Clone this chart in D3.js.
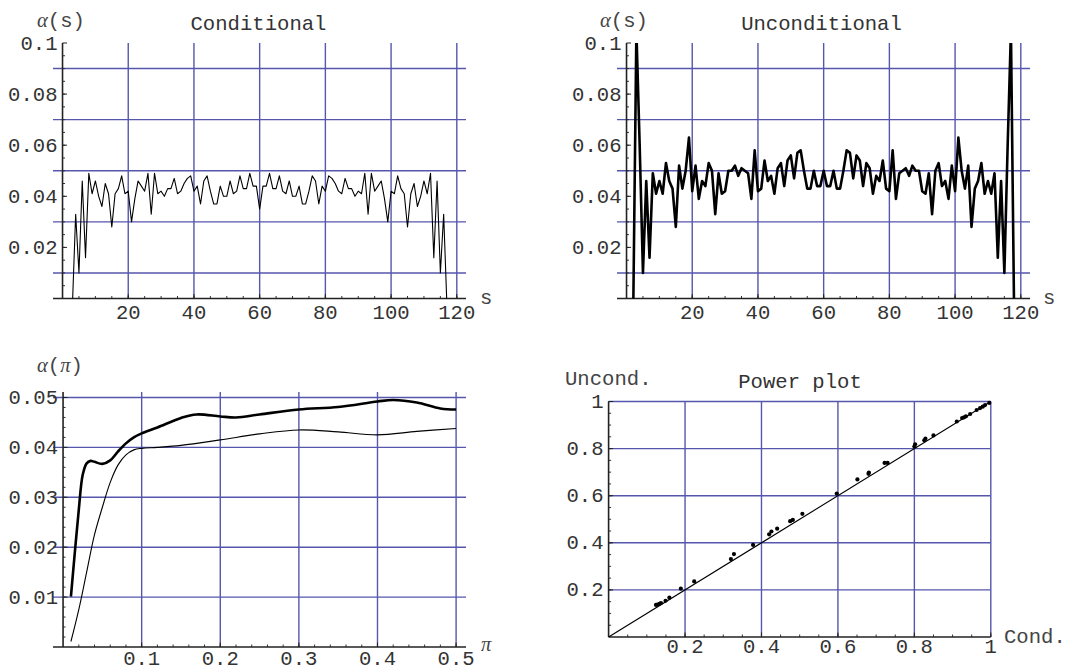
<!DOCTYPE html>
<html>
<head>
<meta charset="utf-8">
<script src="https://cdn.jsdelivr.net/npm/d3@7"></script>
<style>
body{margin:0;background:#fff}
svg{display:block}
</style>
</head>
<body>
<svg id="chart" width="1066" height="671"></svg>
<script>
// ---- data ----
// alpha(s), conditional test, s = 3 .. 117
var condStart = 3
var condVals = [-0.003,0.033,0.010,0.046,0.016,0.049,0.041,0.046,0.040,0.036,
  0.045,0.041,0.028,0.041,0.043,0.048,0.041,0.042,0.030,0.039,
  0.046,0.044,0.042,0.049,0.033,0.049,0.041,0.042,0.040,0.043,
  0.043,0.047,0.041,0.042,0.045,0.047,0.048,0.042,0.044,0.037,
  0.046,0.048,0.042,0.037,0.037,0.044,0.040,0.040,0.046,0.041,
  0.042,0.048,0.043,0.043,0.049,0.044,0.044,0.035,
  0.044,0.044,0.049,0.043,0.043,0.048,0.042,0.041,0.046,0.040,
  0.040,0.044,0.037,0.037,0.042,0.048,0.046,0.037,0.044,0.042,
  0.048,0.047,0.045,0.042,0.041,0.047,0.043,0.043,0.040,0.042,
  0.041,0.049,0.033,0.049,0.042,0.044,0.046,0.039,0.030,0.042,
  0.041,0.048,0.043,0.041,0.028,0.041,0.045,0.036,0.040,0.046,
  0.041,0.049,0.016,0.046,0.010,0.033,-0.003]
// alpha(s), unconditional test, s = 2 .. 118
var uncStart = 2
var uncVals = [-0.010,0.105,0.060,0.010,0.046,0.016,0.049,0.041,0.046,0.041,
  0.053,0.046,0.043,0.028,0.052,0.043,0.050,0.063,0.042,0.052,
  0.039,0.046,0.044,0.053,0.050,0.033,0.049,0.041,0.042,0.050,
  0.050,0.052,0.048,0.051,0.050,0.049,0.039,0.058,0.042,0.043,
  0.054,0.046,0.048,0.041,0.051,0.053,0.044,0.054,0.056,0.047,
  0.057,0.058,0.050,0.043,0.043,0.050,0.044,0.044,0.050,
  0.044,0.044,0.050,0.043,0.043,0.050,0.058,0.057,0.047,0.056,
  0.054,0.044,0.053,0.051,0.041,0.048,0.046,0.054,0.043,0.042,
  0.058,0.039,0.049,0.050,0.051,0.048,0.052,0.050,0.050,0.042,
  0.041,0.049,0.033,0.050,0.053,0.044,0.046,0.039,0.052,0.042,
  0.063,0.050,0.043,0.052,0.028,0.043,0.046,0.053,0.041,0.046,
  0.041,0.049,0.016,0.046,0.010,0.060,0.105,-0.010]

// alpha(pi), thin and thick curves
var thinPi  = [0.01,0.02,0.03,0.04,0.05,0.06,0.07,0.08,0.09,0.10,0.12,0.15,0.20,0.25,0.30,0.35,0.40,0.45,0.50]
var thinA   = [0.0011,0.0075,0.0150,0.0225,0.0280,0.0330,0.0365,0.0385,0.0395,0.0398,0.0400,0.0404,0.0415,0.0427,0.0435,0.0431,0.0425,0.0432,0.0438]
var thickPi = [0.01,0.015,0.02,0.025,0.03,0.035,0.04,0.05,0.06,0.07,0.08,0.09,0.10,0.12,0.15,0.17,0.20,0.22,0.25,0.30,0.35,0.40,0.42,0.45,0.48,0.50]
var thickA  = [0.0101,0.0190,0.0275,0.0345,0.0368,0.0373,0.0371,0.0367,0.0374,0.0392,0.0408,0.0420,0.0428,0.0440,0.0459,0.0466,0.0462,0.0460,0.0466,0.0476,0.0481,0.0492,0.0495,0.0490,0.0478,0.0476]

// power plot points
var powCond   = [0.124,0.128,0.133,0.137,0.149,0.159,0.189,0.224,0.320,0.328,0.378,0.420,0.426,0.441,0.475,0.482,0.507,
  0.597,0.651,0.681,0.680,0.722,0.730,0.800,0.802,0.826,0.829,0.850,0.911,0.925,0.930,0.935,0.946,0.963,0.972,0.979,0.985,0.996]
var powUncond = [0.136,0.138,0.141,0.144,0.154,0.167,0.205,0.236,0.331,0.352,0.391,0.436,0.448,0.460,0.492,0.497,0.523,
  0.609,0.669,0.698,0.693,0.739,0.739,0.809,0.818,0.835,0.842,0.856,0.915,0.930,0.933,0.937,0.947,0.964,0.972,0.978,0.985,0.994]
var diagLine = [0, 1]

// ticks
var sTicks = [20,40,60,80,100,120]
var aTicks = [0.02,0.04,0.06,0.08,0.1]
var aGrid = [0.01,0.03,0.05,0.07,0.09]
var piTicks = [0.1,0.2,0.3,0.4,0.5]
var apiTicks = [0.01,0.02,0.03,0.04,0.05]
var powTicks = [0.2,0.4,0.6,0.8,1]

// ---- drawing ----
var svg = d3.select('#chart')
var gridClr = '#5656ad'
var mono = '"Liberation Mono","Courier New",monospace'
var serif = '"Liberation Serif","Times New Roman",serif'
var txtClr = '#333'
var fs = 20.6

function panel(o){
  var g = svg.append('g')
  var x = d3.scaleLinear().domain(o.xDom).range([o.left, o.right])
  var y = d3.scaleLinear().domain(o.yDom).range([o.bottom, o.top])
  var x0 = x(0), y0 = y(0)

  g.selectAll('.hg').data(o.hGrid).enter().append('line')
    .attr('x1', o.left).attr('x2', o.right)
    .attr('y1', d=>y(d)).attr('y2', d=>y(d))
    .attr('stroke', gridClr).attr('stroke-width', 1.4)
  g.selectAll('.vg').data(o.vGrid).enter().append('line')
    .attr('x1', d=>x(d)).attr('x2', d=>x(d))
    .attr('y1', o.top).attr('y2', y0)
    .attr('stroke', gridClr).attr('stroke-width', 1.4)

  // minor + major ticks
  g.selectAll('.xm').data(o.xMinor).enter().append('line')
    .attr('x1', d=>x(d)).attr('x2', d=>x(d)).attr('y1', y0).attr('y2', y0-2.5)
    .attr('stroke', '#333').attr('stroke-width', 1)
  g.selectAll('.ym').data(o.yMinor).enter().append('line')
    .attr('y1', d=>y(d)).attr('y2', d=>y(d)).attr('x1', x0).attr('x2', x0+2.5)
    .attr('stroke', '#333').attr('stroke-width', 1)
  g.selectAll('.xM').data(o.xTicks).enter().append('line')
    .attr('x1', d=>x(d)).attr('x2', d=>x(d)).attr('y1', y0).attr('y2', y0-4.5)
    .attr('stroke', '#222').attr('stroke-width', 1)
  g.selectAll('.yM').data(o.yTicks).enter().append('line')
    .attr('y1', d=>y(d)).attr('y2', d=>y(d)).attr('x1', x0).attr('x2', x0+4.5)
    .attr('stroke', '#222').attr('stroke-width', 1)

  // axes
  g.append('line').attr('x1', o.left).attr('x2', o.right).attr('y1', y0).attr('y2', y0)
    .attr('stroke', '#222').attr('stroke-width', 1.6)
  g.append('line').attr('x1', x0).attr('x2', x0).attr('y1', y0).attr('y2', o.top)
    .attr('stroke', '#222').attr('stroke-width', 1.6)

  // tick labels
  g.selectAll('.xl').data(o.xTicks).enter().append('text')
    .attr('x', d=>x(d)).attr('y', y0+o.xLabOff)
    .attr('text-anchor','middle').attr('font-family', mono).attr('font-size', fs)
    .attr('fill', txtClr).text(d=>String(d))
  g.selectAll('.yl').data(o.yTicks).enter().append('text')
    .attr('x', x0-5).attr('y', d=>y(d)+6.5)
    .attr('text-anchor','end').attr('font-family', mono).attr('font-size', fs)
    .attr('fill', txtClr).text(d=>String(d))

  if(o.title) g.append('text').attr('x', o.title[1]).attr('y', o.title[2])
    .attr('text-anchor','middle').attr('font-family', mono).attr('font-size', fs)
    .attr('fill', txtClr).text(o.title[0])

  var id = 'clip'+o.id
  svg.append('clipPath').attr('id', id).append('rect')
    .attr('x', o.left).attr('y', o.top).attr('width', o.right-o.left).attr('height', y0-o.top)
  var data = g.append('g').attr('clip-path', 'url(#'+id+')')
  return {g:g, x:x, y:y, data:data}
}

function label(parts, px, py){
  var t = svg.append('text').attr('x', px).attr('y', py).attr('font-size', fs).attr('fill', '#444')
  parts.forEach(function(p){
    t.append('tspan').attr('font-family', p[1] ? serif : mono)
      .attr('font-style', p[1] ? 'italic' : 'normal').text(p[0])
  })
}

var sMinor = d3.range(5, 121, 5)
var aMinor = d3.range(0.005, 0.1, 0.005)

// top-left: Conditional
var p1 = panel({id:1, left:53, right:466, top:43, bottom:298.5, xDom:[-2.9,122.8], yDom:[0,0.1],
  hGrid:aGrid, vGrid:sTicks, xTicks:sTicks, yTicks:aTicks, xMinor:sMinor, yMinor:aMinor,
  xLabOff:20, title:['Conditional', 258.5, 30]})
p1.data.append('path').datum(condVals)
  .attr('d', d3.line().x((d,i)=>p1.x(condStart+i)).y(d=>p1.y(d)))
  .attr('fill','none').attr('stroke','#000').attr('stroke-width',1.1).attr('stroke-linejoin','round')
label([['α',1],['(s)',0]], 37, 27)
label([['s',0]], 480, 304)

// top-right: Unconditional
var p2 = panel({id:2, left:617, right:1030, top:43, bottom:298.5, xDom:[-2.9,122.8], yDom:[0,0.1],
  hGrid:aGrid, vGrid:sTicks, xTicks:sTicks, yTicks:aTicks, xMinor:sMinor, yMinor:aMinor,
  xLabOff:20, title:['Unconditional', 821.5, 30]})
p2.data.append('path').datum(uncVals)
  .attr('d', d3.line().x((d,i)=>p2.x(uncStart+i)).y(d=>p2.y(d)))
  .attr('fill','none').attr('stroke','#000').attr('stroke-width',2.6).attr('stroke-linejoin','round')
label([['α',1],['(s)',0]], 600, 27)
label([['s',0]], 1043, 304)

// bottom-left: alpha(pi)
var p3 = panel({id:3, left:53, right:466, top:392, bottom:647, xDom:[-0.0128,0.5126], yDom:[0,0.0511],
  hGrid:apiTicks, vGrid:piTicks, xTicks:piTicks, yTicks:apiTicks,
  xMinor:d3.range(0.02, 0.51, 0.02), yMinor:d3.range(0.002, 0.051, 0.002), xLabOff:18})
var curve = d3.curveCatmullRom.alpha(0.5)
p3.data.append('path').datum(thinPi)
  .attr('d', d3.line().curve(curve).x(d=>p3.x(d)).y((d,i)=>p3.y(thinA[i])))
  .attr('fill','none').attr('stroke','#000').attr('stroke-width',1.1)
p3.data.append('path').datum(thickPi)
  .attr('d', d3.line().curve(curve).x(d=>p3.x(d)).y((d,i)=>p3.y(thickA[i])))
  .attr('fill','none').attr('stroke','#000').attr('stroke-width',2.6)
label([['α',1],['(',0],['π',1],[')',0]], 37, 372)
label([['π',1]], 481, 651)

// bottom-right: power plot
var p4 = panel({id:4, left:608.6, right:990.8, top:401.5, bottom:637, xDom:[0,1], yDom:[0,1],
  hGrid:powTicks, vGrid:powTicks, xTicks:powTicks, yTicks:powTicks,
  xMinor:d3.range(0.05, 1.01, 0.05), yMinor:d3.range(0.05, 1.01, 0.05), xLabOff:16,
  title:['Power plot', 800, 388]})
p4.g.append('path').datum(diagLine)
  .attr('d', d3.line().x(d=>p4.x(d)).y(d=>p4.y(d)))
  .attr('stroke','#000').attr('stroke-width',1.1)
p4.g.selectAll('.pt').data(powCond).enter().append('circle')
  .attr('cx', d=>p4.x(d)).attr('cy', (d,i)=>p4.y(powUncond[i])).attr('r', 2.1).attr('fill','#000')
label([['Uncond.',0]], 565, 385)
label([['Cond.',0]], 1004, 643)
</script>
</body>
</html>
